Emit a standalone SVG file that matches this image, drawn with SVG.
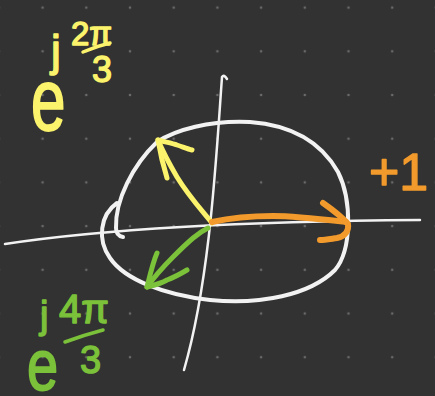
<svg xmlns="http://www.w3.org/2000/svg" width="435" height="396" viewBox="0 0 435 396">
<defs>
<pattern id="dots" patternUnits="userSpaceOnUse" x="20.75" y="-14.25" width="43.7" height="43.7">
<circle cx="21.85" cy="21.85" r="1.3" fill="#6a6a6a"/>
</pattern>
<style>
.s{fill:none;stroke-linecap:round;stroke-linejoin:round}
.w{stroke:#f2f2f2}
.y{stroke:#fbf36c}
.o{stroke:#f29a2c}
.g{stroke:#7bc13a}
.t{font-family:"Liberation Sans",Arial,sans-serif;stroke-width:1.4;stroke-linejoin:round}
.ty{fill:#fbf36c;stroke:#fbf36c}
.tg{fill:#7bc13a;stroke:#7bc13a}
.to{fill:#f29a2c;stroke:#f29a2c}
</style>
</defs>
<rect width="435" height="396" fill="#323232"/>
<rect width="435" height="396" fill="url(#dots)"/>
<g id="axes">
<path class="s w" stroke-width="2.5" d="M5,244 Q150,222 420,220"/>
<path class="s w" stroke-width="2.5" d="M227,79 Q224,74 222,77 C216,160 210,280 184,370"/>
</g>
<g id="circle">
<path class="s w" stroke-width="4" d="M117,203 C100,215 97,240 110,258 C125,280 165,295 210,300 C260,305 310,295 335,270 C352,250 352,200 338,172 C320,140 290,125 250,122 C210,120 175,130 157,142 C133,165 115,200 116,228 C116,233 118,236 123,237"/>
</g>
<g id="connectors">
<g id="arrow-yellow">
<path class="s y" stroke-width="5" d="M212,223 C198,206 188,195 177,177 C170,165 163,152 158,140"/>
<path class="s y" stroke-width="5" d="M167,178 C163,165 160,152 158,140 C165,142 172,143 177,145 C183,147 188,149 192,150"/>
</g>
<g id="arrow-orange">
<path class="s o" stroke-width="6" d="M212,222 C230,218 255,216 273,216 C295,216 320,219 346,222"/>
<path class="s o" stroke-width="6" d="M323,203 C333,210 342,217 348,224 C349,230 346,236 337,238 C330,239 325,240 320,240"/>
</g>
<g id="arrow-green">
<path class="s g" stroke-width="5" d="M208,228 C198,233 190,240 173,257 C163,267 155,276 147,287"/>
<path class="s g" stroke-width="5" d="M157,253 C153,262 150,275 147,287 C155,285 162,283 167,280 C175,277 182,273 187,270"/>
</g>
</g>
<g id="label-yellow">
<text class="t ty" transform="translate(31,130) scale(1,1.4)" font-size="62">e</text>
<text class="t ty" x="51" y="66" font-size="44">j</text>
<text class="t ty" x="71" y="45" font-size="33">2π</text>
<path class="s y" stroke-width="3.5" d="M83,52 Q97,46 110,43"/>
<text class="t ty" x="92" y="82" font-size="36">3</text>
</g>
<g id="label-green">
<text class="t tg" transform="translate(27,390) scale(1,1.3)" font-size="56">e</text>
<text class="t tg" x="40" y="328" font-size="38">j</text>
<text class="t tg" x="59" y="323" font-size="40">4π</text>
<path class="s g" stroke-width="3.5" d="M65,342 Q84,335 103,330"/>
<text class="t tg" x="80" y="373" font-size="38">3</text>
</g>
<g id="label-orange">
<text class="t to" x="369" y="190" font-size="52">+1</text>
</g>
</svg>
